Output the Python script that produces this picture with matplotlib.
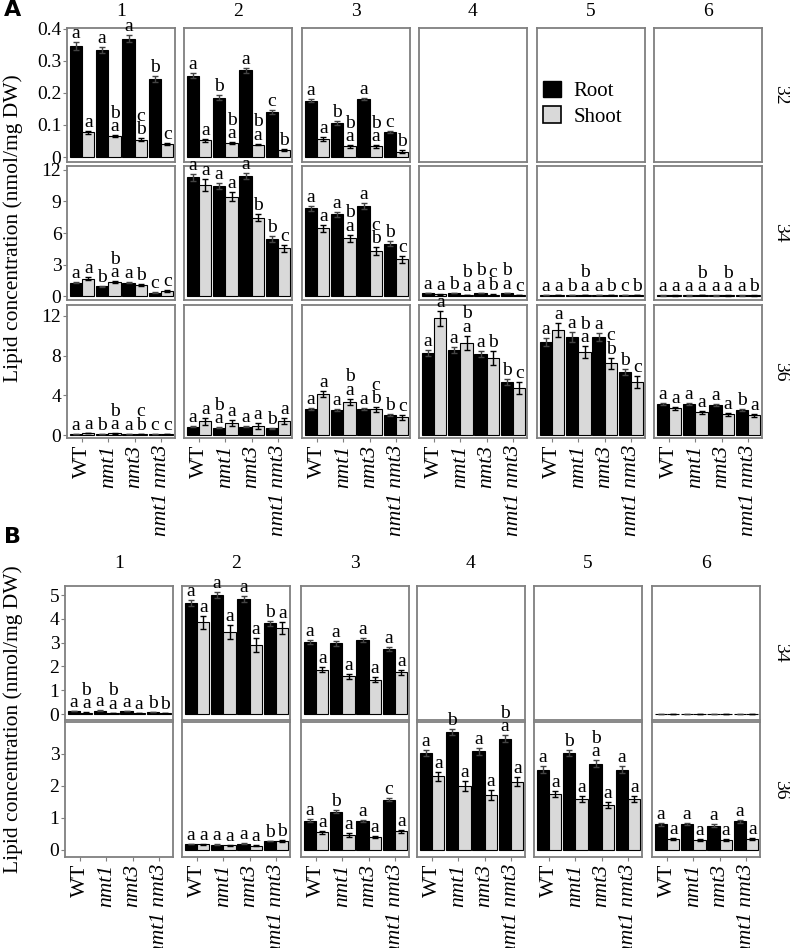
import numpy as np
import matplotlib
matplotlib.use("Agg")
import matplotlib.pyplot as plt
from matplotlib.patches import Patch

plt.rcParams['font.family'] = 'serif'
plt.rcParams['font.serif'] = ['Liberation Serif', 'DejaVu Serif']

# ---- Data ----
genotypes = ["WT", "nmt1", "nmt3", "nmt1 nmt3"]
col_titles = ["1", "2", "3", "4", "5", "6"]

# Panel A, species 32
A32_root = [[0.346, 0.335, 0.370, 0.244], [0.254, 0.185, 0.271, 0.140], [0.176, 0.106, 0.181, 0.078], None, None, None]
A32_shoot = [[0.077, 0.065, 0.054, 0.040], [0.052, 0.044, 0.039, 0.023], [0.057, 0.033, 0.033, 0.017], None, None, None]
A32_root_err = [[0.012, 0.010, 0.012, 0.010], [0.007, 0.008, 0.008, 0.007], [0.004, 0.005, 0.004, 0.004], None, None, None]
A32_shoot_err = [[0.005, 0.004, 0.004, 0.004], [0.004, 0.003, 0.003, 0.003], [0.006, 0.004, 0.004, 0.004], None, None, None]
A32_root_lbl = [['a', 'a', 'a', 'b'], ['a', 'b', 'a', 'c'], ['a', 'b', 'a', 'c'], None, None, None]
A32_shoot_lbl = [['a', 'b\na', 'c\nb', 'c'], ['a', 'b\na', 'b\na', 'b'], ['a', 'b\na', 'b\na', 'b'], None, None, None]

# Panel A, species 34
A34_root = [[1.27, 0.92, 1.27, 0.32], [11.3, 10.5, 11.43, 5.45], [8.34, 7.77, 8.57, 5.0],
            [0.28, 0.30, 0.28, 0.30], [0.08, 0.06, 0.06, 0.06], [0.05, 0.05, 0.05, 0.05]]
A34_shoot = [[1.66, 1.34, 1.02, 0.51], [10.57, 9.46, 7.45, 4.55], [6.43, 5.48, 4.3, 3.5],
             [0.15, 0.12, 0.13, 0.12], [0.06, 0.10, 0.07, 0.07], [0.05, 0.06, 0.05, 0.05]]
A34_root_err = [[0.06, 0.06, 0.06, 0.04], [0.35, 0.3, 0.3, 0.3], [0.25, 0.25, 0.25, 0.2],
                [0.02, 0.02, 0.02, 0.02], [0.01, 0.01, 0.01, 0.01], [0.01, 0.01, 0.01, 0.01]]
A34_shoot_err = [[0.12, 0.1, 0.1, 0.1], [0.55, 0.4, 0.35, 0.35], [0.35, 0.35, 0.35, 0.35],
                 [0.02, 0.02, 0.02, 0.02], [0.01, 0.01, 0.01, 0.01], [0.01, 0.01, 0.01, 0.01]]
A34_root_lbl = [['a', 'b', 'a', 'c'], ['a', 'a', 'a', 'b'], ['a', 'a', 'a', 'b'],
                ['a', 'b', 'b\na', 'b\na'], ['a', 'b', 'a', 'c'], ['a', 'a', 'a', 'a']]
A34_shoot_lbl = [['a', 'b\na', 'b', 'c'], ['a', 'a', 'b', 'c'], ['a', 'b\na', 'c\nb', 'c'],
                 ['a', 'b\na', 'c\nb', 'c'], ['a', 'b\na', 'b', 'b'], ['a', 'b\na', 'b\na', 'b']]

# Panel A, species 36
A36_root = [[0.10, 0.07, 0.08, 0.07], [0.84, 0.74, 0.84, 0.67], [2.62, 2.52, 2.62, 2.01],
            [8.22, 8.56, 8.12, 5.37], [9.33, 9.9, 9.83, 6.38], [3.12, 3.12, 3.05, 2.52]]
A36_shoot = [[0.20, 0.18, 0.12, 0.10], [1.4, 1.17, 0.94, 1.4], [4.09, 3.36, 2.58, 1.8],
             [11.74, 9.3, 7.72, 4.77], [10.57, 8.32, 7.21, 5.37], [2.68, 2.28, 2.08, 2.01]]
A36_root_err = [[0.01, 0.01, 0.01, 0.01], [0.05, 0.05, 0.05, 0.05], [0.1, 0.1, 0.1, 0.08],
                [0.3, 0.3, 0.3, 0.3], [0.4, 0.5, 0.4, 0.3], [0.1, 0.1, 0.1, 0.1]]
A36_shoot_err = [[0.03, 0.03, 0.03, 0.03], [0.35, 0.3, 0.3, 0.3], [0.3, 0.3, 0.25, 0.25],
                 [0.8, 0.7, 0.7, 0.6], [0.7, 0.6, 0.6, 0.6], [0.15, 0.15, 0.15, 0.15]]
A36_root_lbl = [['a', 'b', 'a', 'c'], ['a', 'b\na', 'a', 'b'], ['a', 'a', 'a', 'b'],
                ['a', 'a', 'a', 'b'], ['a', 'a', 'a', 'b'], ['a', 'a', 'a', 'b']]
A36_shoot_lbl = [['a', 'b\na', 'c\nb', 'c'], ['a', 'a', 'a', 'a'], ['a', 'b\na', 'c\nb', 'c'],
                 ['a', 'b\na', 'b', 'c'], ['a', 'b\na', 'c\nb', 'c'], ['a', 'a', 'a', 'a']]

# Panel B, species 34
B34_root = [[0.13, 0.14, 0.13, 0.09], [4.68, 4.99, 4.82, 3.81], [3.04, 2.97, 3.11, 2.74], None, None, [0.02, 0.02, 0.02, 0.02]]
B34_shoot = [[0.06, 0.05, 0.04, 0.05], [3.85, 3.45, 2.9, 3.6], [1.86, 1.58, 1.44, 1.75], None, None, [0.02, 0.02, 0.02, 0.02]]
B34_root_err = [[0.01, 0.01, 0.01, 0.01], [0.12, 0.12, 0.12, 0.12], [0.08, 0.1, 0.1, 0.08], None, None, [0, 0, 0, 0]]
B34_shoot_err = [[0.01, 0.01, 0.01, 0.01], [0.28, 0.3, 0.28, 0.25], [0.1, 0.1, 0.1, 0.1], None, None, [0, 0, 0, 0]]
B34_root_lbl = [['a', 'a', 'a', 'b'], ['a', 'a', 'a', 'b'], ['a', 'a', 'a', 'a'], None, None, ['', '', '', '']]
B34_shoot_lbl = [['b\na', 'b\na', 'a', 'b'], ['a', 'a', 'a', 'a'], ['a', 'a', 'a', 'a'], None, None, ['', '', '', '']]

# Panel B, species 36
B36_root = [None, [0.19, 0.17, 0.20, 0.28], [0.92, 1.2, 0.91, 1.57], [3.03, 3.69, 3.08, 3.48],
            [2.51, 3.03, 2.7, 2.51], [0.80, 0.81, 0.76, 0.89]]
B36_shoot = [None, [0.18, 0.15, 0.13, 0.28], [0.55, 0.47, 0.40, 0.58], [2.3, 2.0, 1.72, 2.14],
             [1.75, 1.6, 1.41, 1.6], [0.33, 0.30, 0.30, 0.33]]
B36_root_err = [None, [0.01, 0.01, 0.01, 0.01], [0.04, 0.04, 0.04, 0.04], [0.1, 0.1, 0.1, 0.1],
                [0.1, 0.1, 0.1, 0.1], [0.04, 0.04, 0.04, 0.04]]
B36_shoot_err = [None, [0.02, 0.02, 0.02, 0.02], [0.05, 0.05, 0.04, 0.04], [0.15, 0.15, 0.15, 0.15],
                 [0.1, 0.1, 0.1, 0.1], [0.03, 0.03, 0.03, 0.03]]
B36_root_lbl = [None, ['a', 'a', 'a', 'b'], ['a', 'b', 'a', 'c'], ['a', 'b', 'a', 'b\na'],
                ['a', 'b', 'b\na', 'a'], ['a', 'a', 'a', 'a']]
B36_shoot_lbl = [None, ['a', 'a', 'a', 'b'], ['a', 'a', 'a', 'a'], ['a', 'a', 'a', 'a'],
                 ['a', 'a', 'a', 'a'], ['a', 'a', 'a', 'a']]

# ---- Layout (pixels) ----
W, H = 790, 948
fig = plt.figure(figsize=(W / 100, H / 100), dpi=100)

def add_ax(left, top, width, height):
    return fig.add_axes([left / W, 1 - (top + height) / H, width / W, height / H])

FRAME = '#7f7f7f'
SHOOT_C = '#d9d9d9'

def draw_panel(ax, root, shoot, rerr, serr, rlbl, slbl):
    x = np.arange(4)
    if root is not None:
        ax.bar(x - 0.235, root, width=0.46, color='black', edgecolor='black', linewidth=0.8, zorder=2)
        ax.bar(x + 0.235, shoot, width=0.46, color=SHOOT_C, edgecolor='black', linewidth=0.8, zorder=2)
        ax.errorbar(x - 0.235, root, yerr=rerr, fmt='none', ecolor='#444444', elinewidth=1, capsize=2, zorder=3)
        ax.errorbar(x + 0.235, shoot, yerr=serr, fmt='none', ecolor='black', elinewidth=1, capsize=2, zorder=3)
        for i in range(4):
            for xo, v, e, t in [(-0.235, root[i], rerr[i], rlbl[i]), (0.235, shoot[i], serr[i], slbl[i])]:
                if t:
                    ax.annotate(t, (x[i] + xo, v + e), xytext=(0, 0), textcoords='offset points',
                                ha='center', va='bottom', fontsize=14, linespacing=0.72,
                                annotation_clip=False)
    ax.set_xlim(-0.57, 3.53)
    for s in ax.spines.values():
        s.set_color(FRAME)
        s.set_linewidth(1.3)

def build(rows, col_lefts, row_specs, titles_y, label_char, label_y, ylab_y):
    for r, (data, (top, h, ylim, yticks, ytl, rowlab)) in enumerate(zip(rows, row_specs)):
        root, shoot, rerr, serr, rlbl, slbl = data
        for c in range(6):
            ax = add_ax(col_lefts[c], top, 108, h)
            draw_panel(ax, root[c], shoot[c], rerr[c], serr[c], rlbl[c], slbl[c])
            ax.set_ylim(*ylim)
            if c == 0:
                ax.set_yticks(yticks)
                ax.set_yticklabels(ytl, fontsize=14)
                ax.tick_params(axis='y', length=3, color=FRAME, pad=1)
            else:
                ax.set_yticks([])
            if r == len(rows) - 1:
                ax.set_xticks(np.arange(4))
                ax.set_xticklabels(genotypes, rotation=90, fontsize=15.5)
                for k, tl in enumerate(ax.get_xticklabels()):
                    if k > 0:
                        tl.set_fontstyle('italic')
                ax.tick_params(axis='x', length=3, color=FRAME, pad=2)
            else:
                ax.set_xticks([])
            if r == 0:
                fig.text((col_lefts[c] + 54) / W, 1 - titles_y / H, col_titles[c],
                         ha='center', va='center', fontsize=14)
            if label_char == 'A' and r == 0 and c == 4:
                ax.legend(handles=[Patch(facecolor='black', edgecolor='black'),
                                   Patch(facecolor=SHOOT_C, edgecolor='black', linewidth=1.2)],
                          labels=['Root', 'Shoot'], loc='upper left', bbox_to_anchor=(-0.06, 0.7),
                          frameon=False, fontsize=15, handlelength=0.85, handleheight=0.85,
                          handletextpad=0.6, labelspacing=0.25, borderaxespad=0.2)
        fig.text(781 / W, 1 - (top + h / 2) / H, rowlab, rotation=-90,
                 ha='center', va='center', fontsize=14)
    fig.text(4 / W, 1 - label_y / H, label_char, fontsize=16, fontweight='bold',
             family='DejaVu Sans', ha='left', va='center')
    fig.text(13 / W, 1 - ylab_y / H, 'Lipid concentration (nmol/mg DW)', rotation=90,
             ha='center', va='center', fontsize=15.5)

rows_A = [
    (A32_root, A32_shoot, A32_root_err, A32_shoot_err, A32_root_lbl, A32_shoot_lbl),
    (A34_root, A34_shoot, A34_root_err, A34_shoot_err, A34_root_lbl, A34_shoot_lbl),
    (A36_root, A36_shoot, A36_root_err, A36_shoot_err, A36_root_lbl, A36_shoot_lbl),
]
specs_A = [
    (28, 134, (-0.0156, 0.403), [0, 0.1, 0.2, 0.3, 0.4], ['0', '0.1', '0.2', '0.3', '0.4'], '32'),
    (166, 134, (-0.38, 12.38), [0, 3, 6, 9, 12], ['0', '3', '6', '9', '12'], '34'),
    (305, 133, (-0.3, 13.1), [0, 4, 8, 12], ['0', '4', '8', '12'], '36'),
]
build(rows_A, [67, 184, 302, 419, 537, 654], specs_A, 11, 'A', 10, 228)

rows_B = [
    (B34_root, B34_shoot, B34_root_err, B34_shoot_err, B34_root_lbl, B34_shoot_lbl),
    (B36_root, B36_shoot, B36_root_err, B36_shoot_err, B36_root_lbl, B36_shoot_lbl),
]
specs_B = [
    (586, 134, (-0.25, 5.38), [0, 1, 2, 3, 4, 5], ['0', '1', '2', '3', '4', '5'], '34'),
    (722, 135, (-0.22, 4.0), [0, 1, 2, 3], ['0', '1', '2', '3'], '36'),
]
build(rows_B, [65, 182, 301, 417, 534, 652], specs_B, 564, 'B', 537, 719)

fig.savefig('out.png', dpi=100)
